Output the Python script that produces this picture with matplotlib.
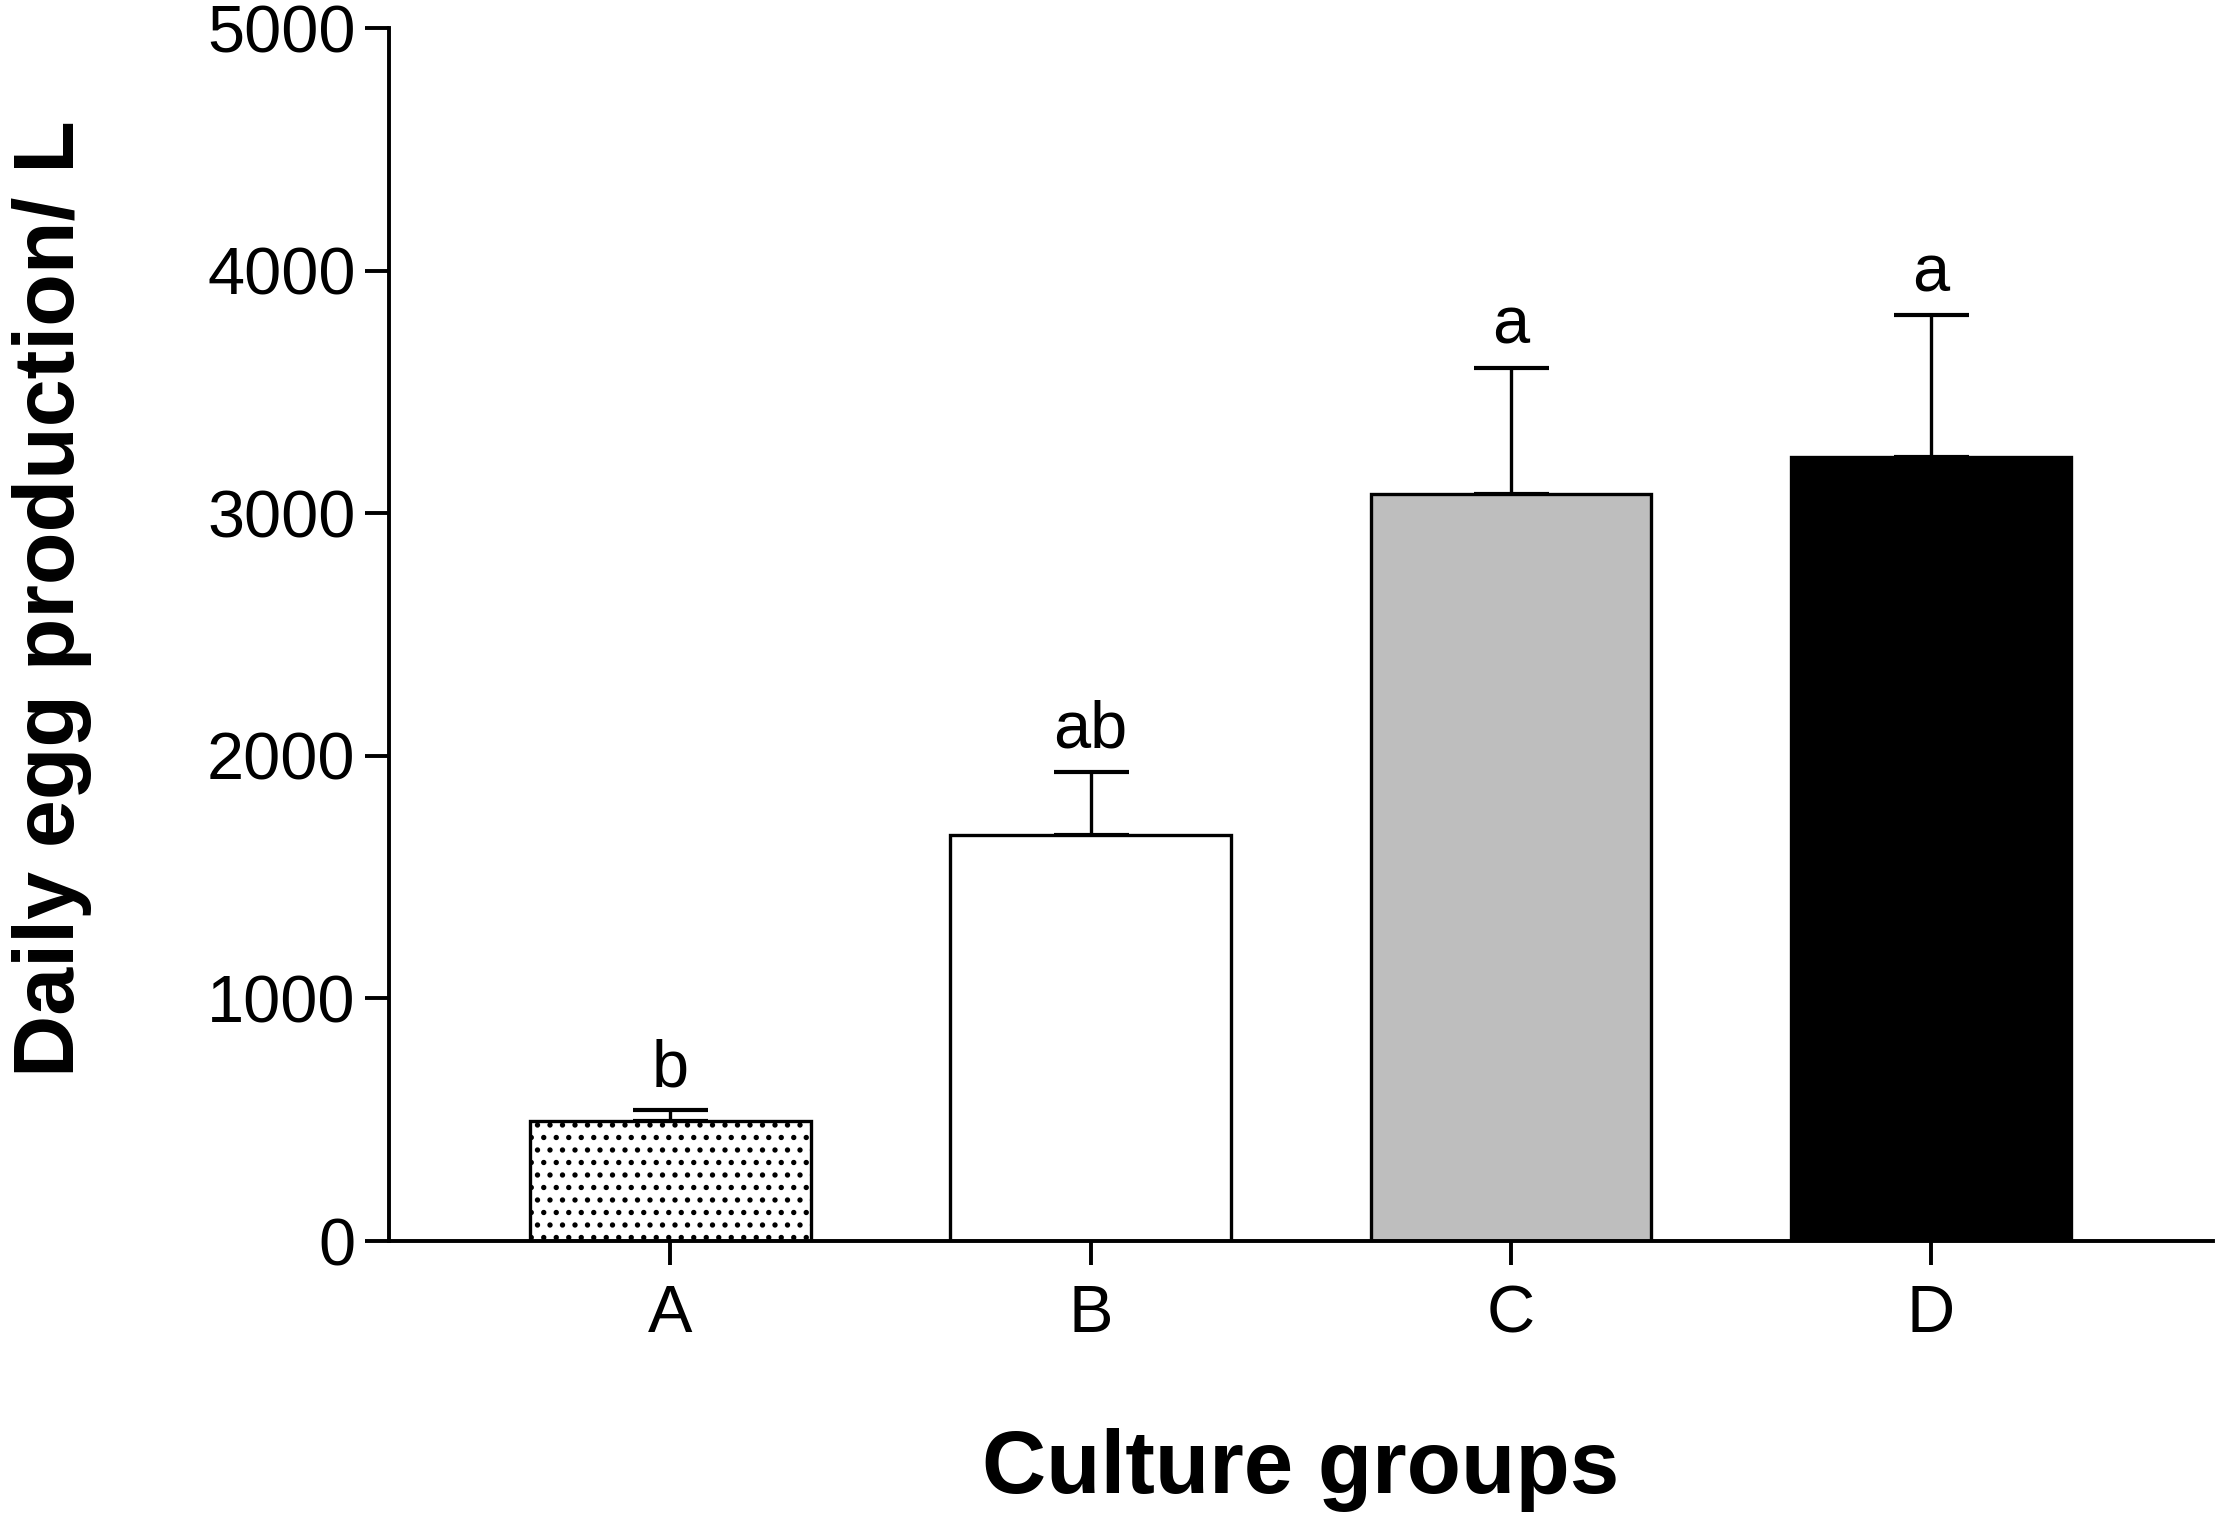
import matplotlib
matplotlib.use("Agg")
import matplotlib.pyplot as plt
import numpy as np

# sizes below were tuned at 100 dpi; the figure is saved at 150 dpi so the
# dot hatch comes out at the right density, hence the scale factor
DPI = 150
S = 100 / DPI

plt.rcParams["font.family"] = ["Liberation Sans", "DejaVu Sans"]
plt.rcParams["hatch.linewidth"] = 2.0 * S

groups = ["A", "B", "C", "D"]
means = [495, 1672, 3078, 3230]
sem = [45, 263, 522, 588]
letters = ["b", "ab", "a", "a"]
colors = ["white", "white", "#bebebe", "black"]
hatches = ["..", None, None, None]

fig = plt.figure(figsize=(2217 / DPI, 1519 / DPI), dpi=DPI)
ax = fig.add_axes([0.1754, 0.183, 0.8226, 0.7985])

x = np.arange(len(groups))
width = 0.667
for i in range(len(groups)):
    ax.bar(x[i], means[i], width, color=colors[i], edgecolor="black",
           linewidth=2.4 * S, hatch=hatches[i], zorder=2)
ax.errorbar(x, means, yerr=[np.zeros(len(sem)), sem], fmt="none",
            ecolor="black", elinewidth=2.4 * S, capsize=27 * S,
            capthick=3.0 * S, zorder=1)

for i, lab in enumerate(letters):
    ax.annotate(lab, xy=(x[i], means[i] + sem[i]), xytext=(0, 7 * S),
                textcoords="offset points", ha="center", va="bottom",
                fontsize=48 * S)

ax.set_xlim(-0.67, 3.67)
ax.set_ylim(0, 5000)
ax.set_yticks([0, 1000, 2000, 3000, 4000, 5000])
ax.set_xticks(x)
ax.set_xticklabels(groups)
ax.tick_params(axis="both", labelsize=48 * S, length=17 * S, width=2.8 * S,
               direction="out")
ax.tick_params(axis="x", pad=14 * S)
ax.tick_params(axis="y", pad=7 * S)

for side in ("top", "right"):
    ax.spines[side].set_visible(False)
for side in ("left", "bottom"):
    ax.spines[side].set_linewidth(2.8 * S)

ax.set_ylabel("Daily egg production/ L", fontsize=62 * S, fontweight="bold")
ax.yaxis.set_label_coords(-0.163, 0.53)
ax.set_xlabel("Culture groups", fontsize=64 * S, fontweight="bold")
ax.xaxis.set_label_coords(0.5, -0.154)

fig.savefig("out.png", dpi=DPI)
